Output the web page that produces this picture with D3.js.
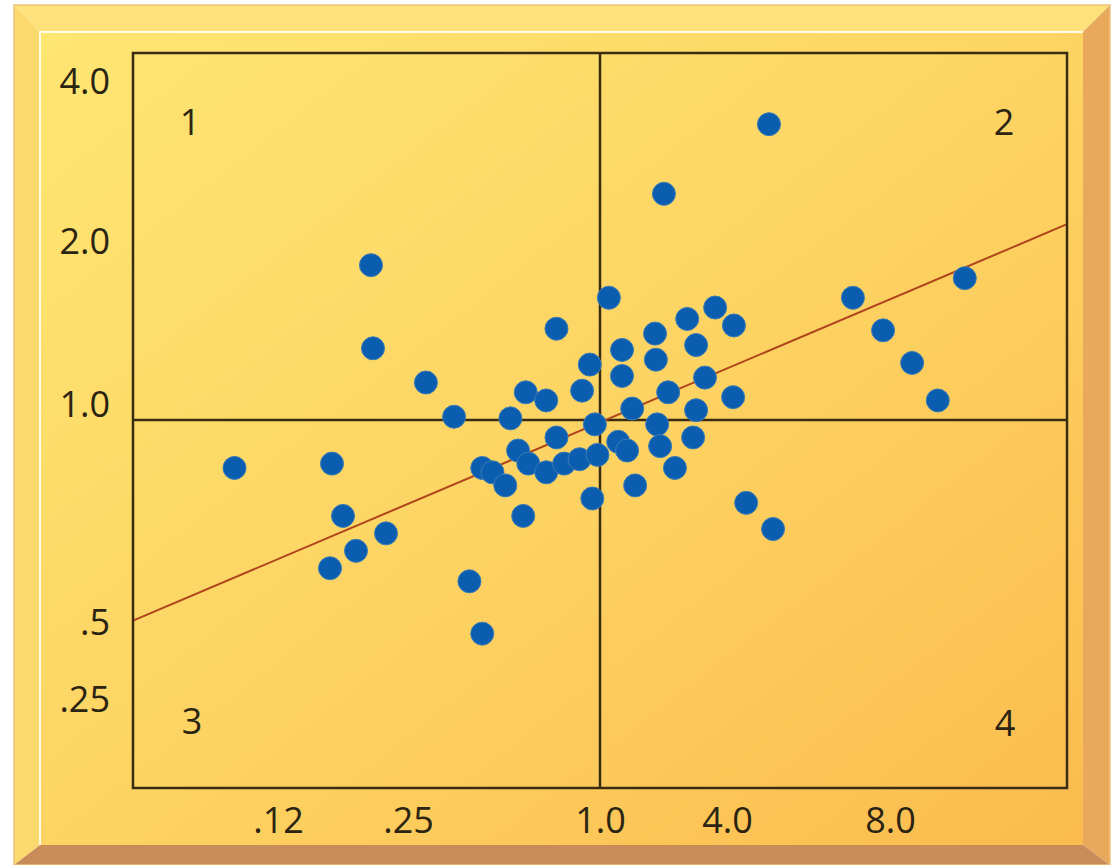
<!DOCTYPE html>
<html>
<head>
<meta charset="utf-8">
<script src="https://cdn.jsdelivr.net/npm/d3@7"></script>
<style>
  body { margin: 0; background: #fff; }
  svg { display: block; }
  .axis text, .quad { font-family: "Open Sans", sans-serif; font-size: 36px; fill: #2b2413; }
</style>
</head>
<body>
<div id="chart"></div>
<script>
// dot positions
var xValues = [0.102, 0.174, 0.185, 0.172, 0.198, 0.228, 0.213, 0.215, 0.32, 0.43,
               0.49, 0.54, 0.54, 0.58, 0.63, 0.65, 0.68, 0.72, 0.70, 0.71,
               0.79, 0.79, 0.83, 0.83, 0.86, 0.92, 0.93, 0.96, 0.98, 0.99,
               0.97, 1.21, 1.52, 1.52, 1.43, 1.64, 1.76, 1.83, 2.30, 2.32,
               2.35, 2.42, 2.51, 2.61, 2.77, 3.06, 3.27, 3.20, 3.27, 3.48,
               3.72, 4.17, 4.15, 4.47, 5.03, 5.13, 7.09, 7.83, 8.50, 9.08, 9.69];
var yValues = [0.89, 0.90, 0.78, 0.66, 0.70, 0.74, 1.95, 1.44, 1.23, 1.02,
               0.63, 0.51, 0.89, 0.88, 0.85, 1.01, 0.93, 0.90, 0.78, 1.17,
               1.12, 0.88, 1.56, 0.96, 0.90, 0.91, 1.18, 1.34, 0.99, 0.92,
               0.82, 1.75, 1.43, 1.27, 0.95, 0.93, 1.07, 0.85, 1.53, 1.37,
               0.99, 0.94, 2.79, 1.17, 0.89, 1.62, 1.46, 0.96, 1.06, 1.26,
               1.69, 1.58, 1.14, 0.81, 3.66, 0.75, 1.75, 1.55, 1.35, 1.12, 1.87];

var xTicks = [0.12, 0.25, 1, 4, 8];
var xTickLabels = [".12", ".25", "1.0", "4.0", "8.0"];
var yTicks = [4, 2, 1, 0.5, 0.25];
var yTickLabels = ["4.0", "2.0", "1.0", ".5", ".25"];

// trend line end points
var trendX = [0.06, 12];
var trendY = [0.54, 2.41];

var quadLabels = ["1", "2", "3", "4"];

var W = 1113, H = 865;
var margin = {top: 53, right: 46, bottom: 77, left: 133},
    width = W - margin.left - margin.right,
    height = H - margin.top - margin.bottom;

var svg = d3.select("#chart")
  .append("svg")
    .attr("width", W)
    .attr("height", H);

var defs = svg.append("defs");
var grad = defs.append("linearGradient")
    .attr("id", "face")
    .attr("x1", "0").attr("y1", "0")
    .attr("x2", "1").attr("y2", "1");
grad.append("stop").attr("offset", "0%").attr("stop-color", "#fee673");
grad.append("stop").attr("offset", "50%").attr("stop-color", "#fdd463");
grad.append("stop").attr("offset", "100%").attr("stop-color", "#fbbb4e");

// beveled frame
var o = {l: 14, t: 5, r: 1110, b: 865},
    f = {l: 40, t: 32, r: 1083, b: 845};

var bevels = [
  {pts: [[o.l,o.t],[o.r,o.t],[f.r,f.t],[f.l,f.t]], fill: "#fde17a"},
  {pts: [[o.l,o.t],[f.l,f.t],[f.l,f.b],[o.l,o.b]], fill: "#fcd96c"},
  {pts: [[o.r,o.t],[f.r,f.t],[f.r,f.b],[o.r,o.b]], fill: "#e9a95c"},
  {pts: [[o.l,o.b],[f.l,f.b],[f.r,f.b],[o.r,o.b]], fill: "#c88c5b"}
];
svg.selectAll("polygon.bevel")
  .data(bevels)
  .enter()
  .append("polygon")
    .attr("class", "bevel")
    .attr("points", d => d.pts.map(p => p.join(",")).join(" "))
    .style("fill", d => d.fill);

svg.append("rect")
    .attr("x", o.l).attr("y", o.t)
    .attr("width", o.r - o.l).attr("height", o.b - o.t)
    .style("fill", "none")
    .style("stroke", "#ecc27a")
    .style("stroke-width", 1.5);

svg.append("rect")
    .attr("x", f.l).attr("y", f.t)
    .attr("width", f.r - f.l).attr("height", f.b - f.t)
    .style("fill", "url(#face)");

// light edge on the inner face
svg.append("path")
    .attr("d", `M${f.l},${f.b} L${f.l},${f.t} L${f.r},${f.t}`)
    .style("fill", "none")
    .style("stroke", "#fffbe8")
    .style("stroke-width", 2);

var g = svg.append("g")
    .attr("transform", "translate(" + margin.left + "," + margin.top + ")");

// the axes are not regular, so piecewise scales
var x = d3.scaleLinear()
    .domain([0.06, 0.12, 0.25, 1, 4, 8, 12])
    .range([0, 145, 275, 467, 594, 757, width]);

var y = d3.scaleLinear()
    .domain([0.125, 0.25, 0.5, 1, 2, 4, 5])
    .range([height, 662, 585, 367, 204, 44, 0]);

var ink = "#3a2c12";

// quadrant lines
g.append("line")
    .attr("x1", x(1)).attr("x2", x(1))
    .attr("y1", 0).attr("y2", height)
    .style("stroke", ink).style("stroke-width", 2.5);
g.append("line")
    .attr("x1", 0).attr("x2", width)
    .attr("y1", y(1)).attr("y2", y(1))
    .style("stroke", ink).style("stroke-width", 2.5);

// trend line
var trend = trendX.map((v, i) => [v, trendY[i]]);
g.append("path")
    .datum(trend)
    .attr("d", d3.line().x(d => x(d[0])).y(d => y(d[1])))
    .style("fill", "none")
    .style("stroke", "#b0441c")
    .style("stroke-width", 2);

// plot box
g.append("rect")
    .attr("width", width).attr("height", height)
    .style("fill", "none")
    .style("stroke", ink)
    .style("stroke-width", 2.5);

// dots
var dots = xValues.map((v, i) => ({x: v, y: yValues[i]}));
g.selectAll("circle.dot")
  .data(dots)
  .enter()
  .append("circle")
    .attr("class", "dot")
    .attr("cx", d => x(d.x))
    .attr("cy", d => y(d.y))
    .attr("r", 11.5)
    .style("fill", "#0b5eaf")
    .style("stroke", "#3a7bb6")
    .style("stroke-width", 1);

// axes
var xAxis = d3.axisBottom(x)
    .tickValues(xTicks)
    .tickFormat((d, i) => xTickLabels[i])
    .tickSize(0)
    .tickPadding(19);
g.append("g")
    .attr("class", "axis")
    .attr("transform", `translate(0, ${height})`)
    .call(xAxis)
    .call(a => a.select(".domain").remove());

var yAxis = d3.axisLeft(y)
    .tickValues(yTicks)
    .tickFormat((d, i) => yTickLabels[i])
    .tickSize(0)
    .tickPadding(23);
g.append("g")
    .attr("class", "axis")
    .call(yAxis)
    .call(a => a.select(".domain").remove())
    .selectAll("text")
    .attr("y", -15);

// quadrant numbers
var qx = [57, width - 63, 59, width - 62];
var qy = [69, 69, height - 67, height - 65];
g.selectAll("text.quad")
  .data(quadLabels)
  .enter()
  .append("text")
    .attr("class", "quad")
    .attr("x", (d, i) => qx[i])
    .attr("y", (d, i) => qy[i])
    .attr("dy", "0.36em")
    .style("text-anchor", "middle")
    .text(d => d);
</script>
</body>
</html>
